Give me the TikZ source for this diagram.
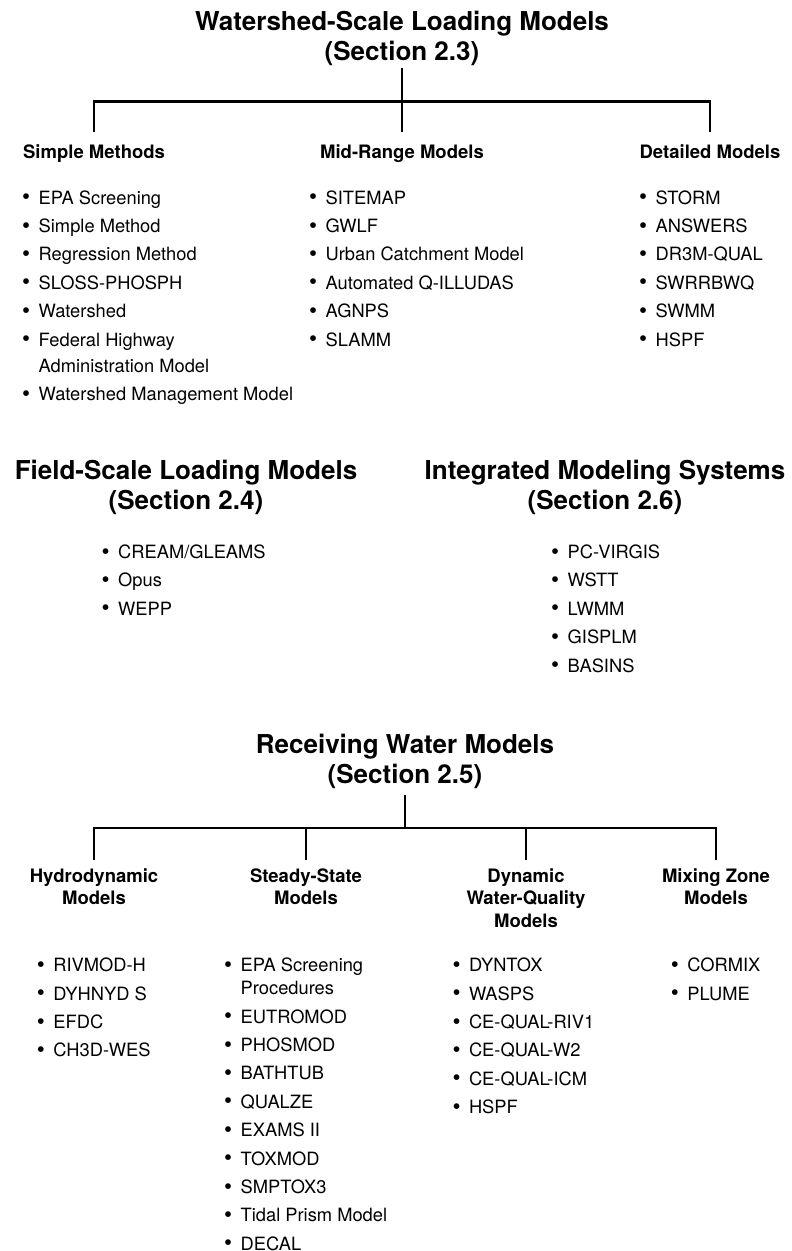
\documentclass[tikz,border=0pt]{standalone}
\usepackage{fontspec}
\setmainfont{TeX Gyre Heros}
\usepackage{graphicx}
\usepackage{tikz}
\usetikzlibrary{positioning}
\tikzset{
  wm/title/.style={anchor=base, align=center, inner sep=0pt, outer ysep=5pt, font=\fontsize{26}{30}\selectfont\bfseries},
  wm/heading/.style={anchor=base, align=center, inner sep=0pt, outer ysep=12pt, font=\fontsize{18.5}{22.7}\selectfont\bfseries},
  wm/item/.style={anchor=base west, inner sep=0pt, text height=13pt, text depth=4pt, font=\fontsize{18.3}{26}\selectfont},
  wm/link/.style={line width=2.8pt}
}
\newcommand{\itembullet}{\makebox[16.5pt][l]{\raisebox{-0.6pt}{\scalebox{1.25}{\textbullet}}}}
\newcommand{\itemgap}{\makebox[16.5pt]{}}

\begin{document}
\begin{tikzpicture}[
  x=1pt, y=1pt,
  node distance=11pt,
  title/.style={wm/title},
  heading/.style={wm/heading},
  item/.style={wm/item},
  wrapitem/.style={wm/item, align=left, text height=39pt},
  nxt/.style={below=of #1.south west, anchor=north west},
  link/.style={wm/link}
]
\useasboundingbox (0,0) rectangle (792,-1251);

% --- Watershed-scale loading models ---
\node[title, outer ysep=3pt] (wtitle) at (402,-60) {Watershed-Scale Loading Models\\(Section 2.3)};
\coordinate (wbus) at (402,-101.5);
\node[heading] (wsimple) at (94,-158) {Simple Methods};
\node[heading] (wmid) at (402,-158) {Mid-Range Models};
\node[heading] (wdet) at (710,-158) {Detailed Models};
\draw[link] (wtitle.south) -- (wbus);
\draw[link] (wsimple.north) |- (wbus) -| (wdet.north);
\draw[link] (wbus) -- (wmid.north);

% simple methods
\node[item] (sm1) at (22,-204) {\itembullet EPA Screening};
\node[item, nxt=sm1] (sm2) {\itembullet Simple Method};
\node[item, nxt=sm2] (sm3) {\itembullet Regression Method};
\node[item, nxt=sm3] (sm4) {\itembullet SLOSS-PHOSPH};
\node[item, nxt=sm4] (sm5) {\itembullet Watershed};
\node[wrapitem, nxt=sm5] (sm6) {\itembullet Federal Highway\\\itemgap Administration Model};
\node[item, nxt=sm6] (sm7) {\itembullet Watershed Management Model};

% mid-range models
\node[item] (mr1) at (309,-204) {\itembullet SITEMAP};
\node[item, nxt=mr1] (mr2) {\itembullet GWLF};
\node[item, nxt=mr2] (mr3) {\itembullet Urban Catchment Model};
\node[item, nxt=mr3] (mr4) {\itembullet Automated Q-ILLUDAS};
\node[item, nxt=mr4] (mr5) {\itembullet AGNPS};
\node[item, nxt=mr5] (mr6) {\itembullet SLAMM};

% detailed models
\node[item] (dm1) at (639,-204) {\itembullet STORM};
\node[item, nxt=dm1] (dm2) {\itembullet ANSWERS};
\node[item, nxt=dm2] (dm3) {\itembullet DR3M-QUAL};
\node[item, nxt=dm3] (dm4) {\itembullet SWRRBWQ};
\node[item, nxt=dm4] (dm5) {\itembullet SWMM};
\node[item, nxt=dm5] (dm6) {\itembullet HSPF};

% --- Field-scale loading models ---
\node[title] (ftitle) at (186,-509) {Field-Scale Loading Models\\(Section 2.4)};
\node[item] (fs1) at (101.5,-558.5) {\itembullet CREAM/GLEAMS};
\node[item, nxt=fs1] (fs2) {\itembullet Opus};
\node[item, nxt=fs2] (fs3) {\itembullet WEPP};

% --- Integrated modeling systems ---
\node[title] (ititle) at (605,-509) {Integrated Modeling Systems\\(Section 2.6)};
\node[item] (im1) at (551,-558.5) {\itembullet PC-VIRGIS};
\node[item, nxt=im1] (im2) {\itembullet WSTT};
\node[item, nxt=im2] (im3) {\itembullet LWMM};
\node[item, nxt=im3] (im4) {\itembullet GISPLM};
\node[item, nxt=im4] (im5) {\itembullet BASINS};

% --- Receiving water models ---
\node[title, outer ysep=7pt] (rtitle) at (405,-783) {Receiving Water Models\\(Section 2.5)};
\coordinate (rbus) at (405,-828);
\node[heading, outer ysep=8pt] (rhydro) at (94,-904.7) {Hydrodynamic\\Models};
\node[heading, outer ysep=8pt] (rsteady) at (306,-904.7) {Steady-State\\Models};
\node[heading, outer ysep=8pt] (rdyn) at (526,-927.4) {Dynamic\\Water-Quality\\Models};
\node[heading, outer ysep=8pt] (rmix) at (716,-904.7) {Mixing Zone\\Models};
\draw[link] (rtitle.south) -- (rbus);
\draw[link] (rhydro.north) |- (rbus) -| (rmix.north);
\draw[link] (rsteady.north) -- (rsteady.north |- rbus);
\draw[link] (rdyn.north) -- (rdyn.north |- rbus);

% hydrodynamic
\node[item] (hd1) at (36.7,-971.7) {\itembullet RIVMOD-H};
\node[item, nxt=hd1] (hd2) {\itembullet DYHNYD S};
\node[item, nxt=hd2] (hd3) {\itembullet EFDC};
\node[item, nxt=hd3] (hd4) {\itembullet CH3D-WES};

% steady-state
\node[wrapitem, text height=36pt, font=\fontsize{18.3}{23}\selectfont] (ss1) at (224,-994.7) {\itembullet EPA Screening\\\itemgap Procedures};
\node[item, nxt=ss1] (ss2) {\itembullet EUTROMOD};
\node[item, nxt=ss2] (ss3) {\itembullet PHOSMOD};
\node[item, nxt=ss3] (ss4) {\itembullet BATHTUB};
\node[item, nxt=ss4] (ss5) {\itembullet QUALZE};
\node[item, nxt=ss5] (ss6) {\itembullet EXAMS II};
\node[item, nxt=ss6] (ss7) {\itembullet TOXMOD};
\node[item, nxt=ss7] (ss8) {\itembullet SMPTOX3};
\node[item, nxt=ss8] (ss9) {\itembullet Tidal Prism Model};
\node[item, nxt=ss9] (ss10) {\itembullet DECAL};

% dynamic water-quality
\node[item] (dq1) at (452.3,-971.7) {\itembullet DYNTOX};
\node[item, nxt=dq1] (dq2) {\itembullet WASPS};
\node[item, nxt=dq2] (dq3) {\itembullet CE-QUAL-RIV1};
\node[item, nxt=dq3] (dq4) {\itembullet CE-QUAL-W2};
\node[item, nxt=dq4] (dq5) {\itembullet CE-QUAL-ICM};
\node[item, nxt=dq5] (dq6) {\itembullet HSPF};

% mixing zone
\node[item] (mz1) at (670.7,-971.7) {\itembullet CORMIX};
\node[item, nxt=mz1] (mz2) {\itembullet PLUME};

\end{tikzpicture}
\end{document}
